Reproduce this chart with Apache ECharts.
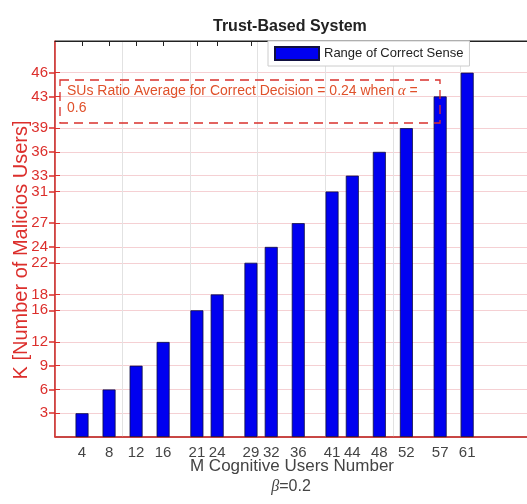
<!DOCTYPE html>
<html><head><meta charset="utf-8">
<script src="https://cdn.jsdelivr.net/npm/echarts@6/dist/echarts.min.js"></script>
<style>html,body{margin:0;padding:0;background:#fff;overflow:hidden}#c{width:531px;height:504px}</style>
</head><body><div id="c"></div>
<script>
var mValues = [4, 8, 12, 16, 21, 24, 29, 32, 36, 41, 44, 48, 52, 57, 61];
var kValues = [3, 6, 9, 12, 16, 18, 22, 24, 27, 31, 33, 36, 39, 43, 46];
var yTicks = [3, 6, 9, 12, 16, 18, 22, 24, 27, 31, 33, 36, 39, 43, 46];
var xTicks = [4, 8, 12, 16, 21, 24, 29, 32, 36, 41, 44, 48, 52, 57, 61];
var seriesName = 'Range of Correct Sense';

var chart = echarts.init(document.getElementById('c'));
var FONT = 'Liberation Sans, Arial, sans-serif';
var RED = '#dc2f2c';
chart.setOption({
  animation: false,
  title: {
    text: 'Trust-Based System', left: 208, top: 14,
    textStyle: {fontFamily: FONT, fontSize: 16, fontWeight: 'bold', color: '#222'}
  },
  legend: {
    left: 268, top: 41, padding: [5, 6, 5, 6],
    backgroundColor: '#fff', borderColor: '#ccc', borderWidth: 1,
    itemWidth: 44, itemHeight: 13, itemGap: 6,
    textStyle: {fontFamily: FONT, fontSize: 13, color: '#222'},
    data: [{name: seriesName, icon: 'rect'}]
  },
  grid: {left: 55, top: 41, right: 3, bottom: 67, show: true, borderColor: '#222', borderWidth: 1, backgroundColor: '#fff'},
  xAxis: [{
    type: 'value', min: 0, max: 70, position: 'bottom',
    axisLine: {show: true, onZero: false, lineStyle: {color: RED, width: 1.5}},
    axisTick: {show: false},
    axisLabel: {customValues: xTicks, fontFamily: FONT, fontSize: 15, color: '#444', margin: 8},
    splitLine: {show: true, lineStyle: {color: '#e2e2e2', width: 1}}
  }, {
    type: 'value', min: 0, max: 70, position: 'top',
    axisLine: {show: true, onZero: false, lineStyle: {color: '#222', width: 1}},
    axisTick: {show: true, inside: true, length: 5, customValues: xTicks, lineStyle: {color: '#222'}},
    axisLabel: {show: false},
    splitLine: {show: false}
  }],
  yAxis: [{
    type: 'value', min: 0, max: 50, position: 'left',
    axisLine: {show: true, lineStyle: {color: RED, width: 1.5}},
    axisTick: {show: true, inside: true, length: 5, customValues: yTicks, lineStyle: {color: RED}},
    axisLabel: {customValues: yTicks, fontFamily: FONT, fontSize: 15, color: RED, margin: 7},
    splitLine: {show: true, lineStyle: {color: 'rgba(225,120,130,0.35)', width: 1}}
  }, {
    type: 'value', min: 0, max: 50, position: 'right',
    axisLine: {show: false},
    axisTick: {show: true, inside: true, length: 6, customValues: yTicks, lineStyle: {color: RED, width: 1.5}},
    axisLabel: {show: false},
    splitLine: {show: false}
  }],
  series: [{
    name: seriesName, type: 'bar', barWidth: 13, xAxisIndex: 0, yAxisIndex: 0,
    itemStyle: {color: '#0000f0', borderColor: '#101040', borderWidth: 0.8},
    data: mValues.map(function (m, i) { return [m, kValues[i]]; })
  }],
  graphic: [
    {type: 'rect', shape: {x: 60, y: 80, width: 380, height: 43},
     style: {fill: 'none', stroke: '#d9302c', lineWidth: 1.3, lineDash: [9, 6]}, z: 100},
    {type: 'text', left: 67, top: 83, z: 101,
     style: {text: 'SUs Ratio Average for Correct Decision = 0.24 when {a|\u03b1} =\n0.6', fill: '#e0502a',
       font: '14px Liberation Sans, Arial, sans-serif', lineHeight: 17,
       rich: {a: {fontFamily: 'Liberation Serif, serif', fontStyle: 'italic', fontSize: 15, fill: '#e0502a'}}}},
    {type: 'text', x: 21, y: 250, rotation: Math.PI / 2, z: 101,
     style: {text: 'K [Number of Malicios Users]', fill: RED, font: '20px Liberation Sans, Arial, sans-serif',
       align: 'center', verticalAlign: 'middle'}},
    {type: 'text', x: 292, y: 466, z: 101,
     style: {text: 'M Cognitive Users Number', fill: '#444', font: '17px Liberation Sans, Arial, sans-serif',
       align: 'center', verticalAlign: 'middle'}},
    {type: 'text', x: 291, y: 487, z: 101,
     style: {text: '{b|\u03b2}=0.2', fill: '#444', font: '16px Liberation Sans, Arial, sans-serif',
       align: 'center', verticalAlign: 'middle',
       rich: {b: {fontStyle: 'italic', fontFamily: 'Liberation Serif, serif', fontSize: 16, fill: '#444'}}}}
  ]
});
</script></body></html>
